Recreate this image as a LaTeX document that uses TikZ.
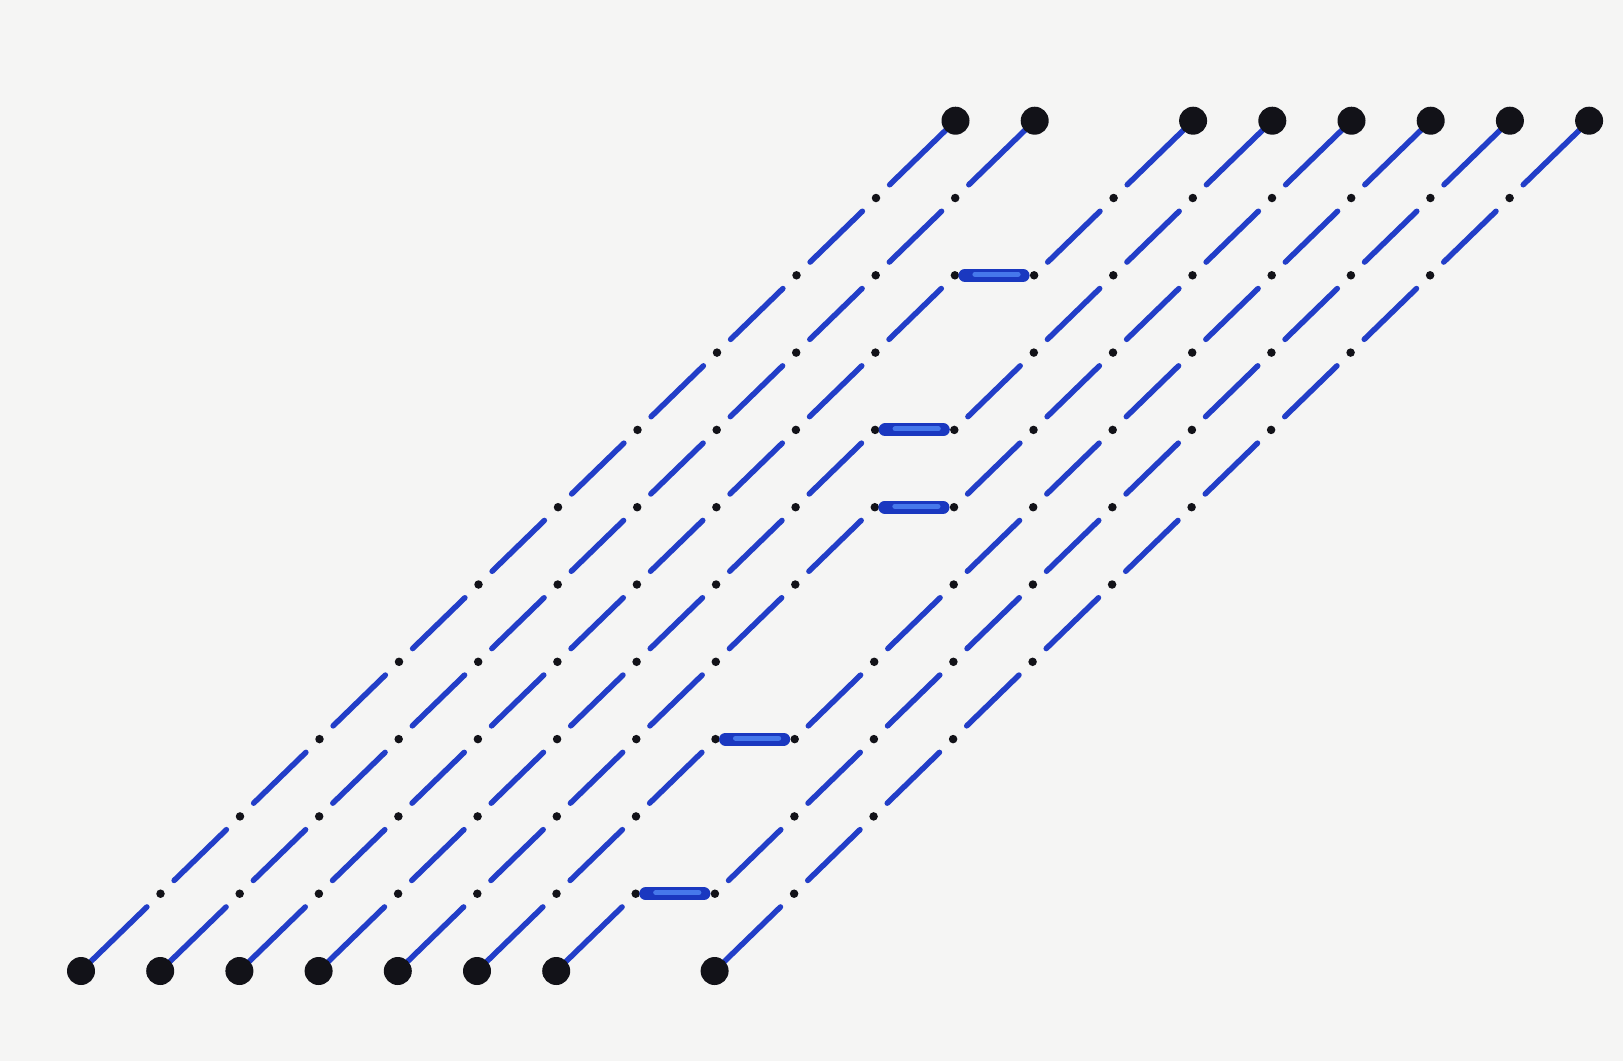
\documentclass[tikz,border=0pt]{standalone}
\definecolor{bg}{RGB}{245,245,244}
\definecolor{wireblue}{RGB}{34,62,200}
\definecolor{pillblue}{RGB}{26,56,192}
\definecolor{pillhi}{RGB}{70,120,235}
\definecolor{ink}{RGB}{18,18,24}
\begin{document}
\begin{tikzpicture}[x=1pt,y=-1pt,
  wire/.style={draw=wireblue, line width=5.5pt, line cap=round},
  jogbar/.style={draw=pillblue, line width=13pt, line cap=round},
  jogshine/.style={draw=pillhi, line width=5pt, line cap=round},
  bigdot/.style={circle, fill=ink, minimum size=28pt, inner sep=0pt},
  smalldot/.style={circle, fill=ink, minimum size=8.5pt, inner sep=0pt}]
\fill[bg] (0,0) rectangle (1623,1061);
\useasboundingbox (0,0) rectangle (1623,1061);
% lattice points
\foreach \i in {0,...,9}{
  \foreach \j in {0,...,11}{
    \coordinate (g\i-\j) at ({81+79.2*\i+79.5*\j},{971-77.3*\j});
  }
}
% the eight wires: number / bottom column / level of the sideways step
\foreach \n/\b/\J in {1/0/20, 2/1/20, 3/2/9, 4/3/7, 5/4/6, 6/5/3, 7/6/1, 8/8/20}{
  \pgfmathtruncatemacro\bN{\b+1}
  \pgfmathtruncatemacro\iT{(11>\J)?\b+1:\b}
  \foreach \j in {1,...,11}{
    \pgfmathtruncatemacro\jP{\j-1}
    \pgfmathtruncatemacro\iS{(\jP>=\J)?\b+1:\b}
    \pgfmathtruncatemacro\iE{(\j>\J)?\b+1:\b}
    \pgfmathsetmacro\sa{(\j==1)?0:19}
    \pgfmathsetmacro\sb{(\j==11)?0:19}
    \draw[wire, shorten <=\sa pt, shorten >=\sb pt] (g\iS-\jP) -- (g\iE-\j);
    \ifnum\j<11 \node[smalldot] (d\n-\j) at (g\iE-\j) {};\fi
  }
  \ifnum\J<12
    \draw[jogbar, shorten <=10pt, shorten >=11pt] (g\b-\J) -- (g\bN-\J);
    \draw[jogshine, shorten <=20pt, shorten >=16pt] ([yshift=1pt]g\b-\J) -- ([yshift=1pt]g\bN-\J);
    \node[smalldot] (r\n) at (g\bN-\J) {};
  \fi
  \node[bigdot] (bot\n) at (g\b-0) {};
  \node[bigdot] (top\n) at (g\iT-11) {};
}
\end{tikzpicture}
\end{document}
